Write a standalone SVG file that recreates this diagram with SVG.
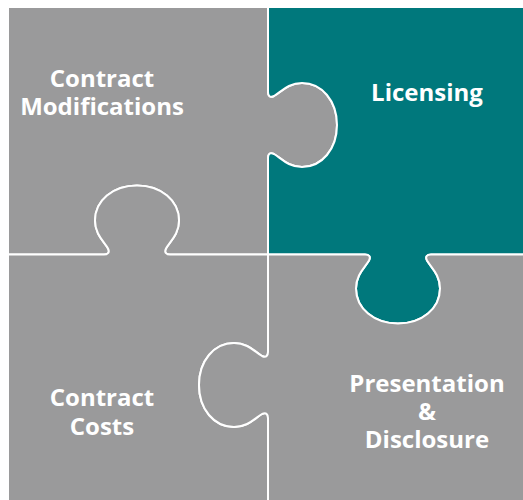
<svg xmlns="http://www.w3.org/2000/svg" width="523" height="500" viewBox="0 0 523 500">
  <style>
    .piece { stroke: #ffffff; stroke-width: 2; stroke-linejoin: round; }
    .grey { fill: #9a9a9b; }
    .teal { fill: #00787c; }
    .label { font-family: "Open Sans", "Liberation Sans", sans-serif; font-weight: 700; font-size: 24px; fill: #ffffff; text-anchor: middle; }
  </style>
  <rect x="0" y="0" width="523" height="500" fill="#ffffff"/>
  <g id="connectors"></g>
  <g id="node-contract-modifications">
    <path class="piece grey" d="M8,7 L268,7 L268,92 C268,96 270,98 274,96 C281,92 288,83 302,83 C322,83 337,101 337,125 C337,149 322,167 302,167 C288,167 281,158 274,154 C270,152 268,154 268,158 L268,254.5 L170,254.5 C166,254.5 164,252.5 166,248.5 C170,241.5 179,234.5 179,220.5 C179,200.5 161,185.5 137,185.5 C113,185.5 95,200.5 95,220.5 C95,234.5 104,241.5 108,248.5 C110,252.5 108,254.5 104,254.5 L8,254.5 Z"/>
    <text class="label" x="102" y="87">Contract</text>
    <text class="label" x="102" y="115">Modifications</text>
  </g>
  <g id="node-licensing">
    <path class="piece teal" d="M268,7 L524,7 L524,254.5 L431,254.5 C427,254.5 425,256.5 427,260.5 C431,267.5 440,274.5 440,288.5 C440,308.5 422,323.5 398,323.5 C374,323.5 356,308.5 356,288.5 C356,274.5 365,267.5 369,260.5 C371,256.5 369,254.5 365,254.5 L268,254.5 L268,158 C268,154 270,152 274,154 C281,158 288,167 302,167 C322,167 337,149 337,125 C337,101 322,83 302,83 C288,83 281,92 274,96 C270,98 268,96 268,92 Z"/>
    <text class="label" x="427" y="101">Licensing</text>
  </g>
  <g id="node-contract-costs">
    <path class="piece grey" d="M8,254.5 L104,254.5 C108,254.5 110,252.5 108,248.5 C104,241.5 95,234.5 95,220.5 C95,200.5 113,185.5 137,185.5 C161,185.5 179,200.5 179,220.5 C179,234.5 170,241.5 166,248.5 C164,252.5 166,254.5 170,254.5 L268,254.5 L268,352 C268,356 266,358 262,356 C255,352 248,343 234,343 C214,343 199,361 199,385 C199,409 214,427 234,427 C248,427 255,418 262,414 C266,412 268,414 268,418 L268,501 L8,501 Z"/>
    <text class="label" x="102" y="406">Contract</text>
    <text class="label" x="102" y="435">Costs</text>
  </g>
  <g id="node-presentation-disclosure">
    <path class="piece grey" d="M268,254.5 L365,254.5 C369,254.5 371,256.5 369,260.5 C365,267.5 356,274.5 356,288.5 C356,308.5 374,323.5 398,323.5 C422,323.5 440,308.5 440,288.5 C440,274.5 431,267.5 427,260.5 C425,256.5 427,254.5 431,254.5 L524,254.5 L524,501 L268,501 L268,418 C268,414 266,412 262,414 C255,418 248,427 234,427 C214,427 199,409 199,385 C199,361 214,343 234,343 C248,343 255,352 262,356 C266,358 268,356 268,352 Z"/>
    <text class="label" x="427" y="392">Presentation</text>
    <text class="label" x="427" y="420">&amp;</text>
    <text class="label" x="427" y="448">Disclosure</text>
  </g>
</svg>
